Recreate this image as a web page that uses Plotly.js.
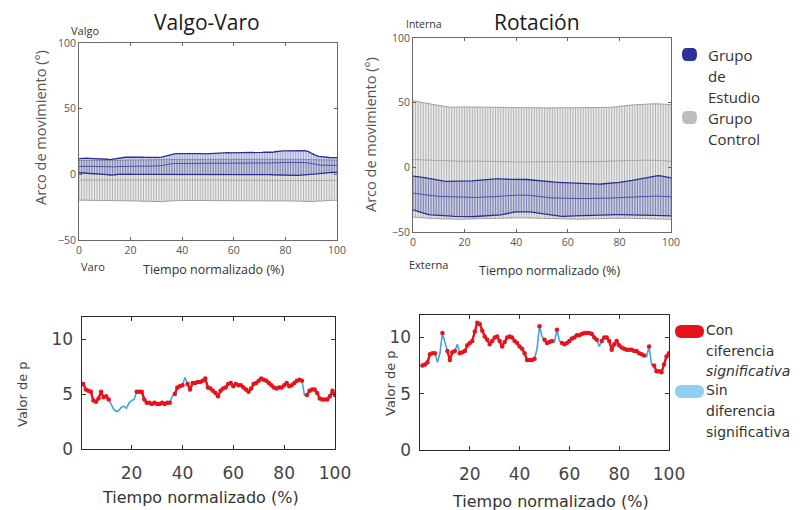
<!DOCTYPE html>
<html><head><meta charset="utf-8">
<script src="https://cdn.plot.ly/plotly-3.0.1.min.js"></script>
<style>html,body{margin:0;padding:0;background:#fff}#chart{width:807px;height:510px}</style>
</head><body><div id="chart"></div>
<script>
// ---------- DATA ----------
// Valgo-Varo, control group (gray)
const vvCtrlUpper = [10.5,10.6,10.6,10.7,10.7,10.6,10.6,10.5,10.5,10.4,10.3,
 10.2,10.2,10.3,10.4,10.5,10.6,10.7,10.7,10.8,10.8,
 10.8,10.9,10.9,10.9,11.0,11.0,11.0,11.1,11.1,11.1,
 11.1,11.2,11.2,11.2,11.3,11.3,11.3,11.3,11.4,11.4,
 11.4,11.4,11.5,11.5,11.5,11.5,11.6,11.6,11.6,11.6,
 11.6,11.7,11.7,11.7,11.7,11.7,11.8,11.8,11.8,11.8,
 11.8,11.8,11.8,11.9,11.9,11.9,11.9,11.9,11.9,11.9,
 11.9,11.9,11.9,11.9,11.8,11.8,11.8,11.8,11.7,11.7,
 11.7,11.6,11.6,11.5,11.5,11.4,11.4,11.3,11.3,11.2,
 11.2,11.1,11.1,11.0,11.0,10.9,10.9,10.8,10.8,10.7];
const vvCtrlMean = [-4.4,-4.4,-4.5,-4.5,-4.6,-4.6,-4.6,-4.7,-4.7,-4.8,-4.8,
 -4.9,-4.9,-4.8,-4.8,-4.7,-4.7,-4.6,-4.6,-4.5,-4.5,
 -4.5,-4.5,-4.6,-4.6,-4.6,-4.7,-4.7,-4.8,-4.8,-4.9,
 -4.9,-4.9,-4.8,-4.8,-4.7,-4.7,-4.6,-4.6,-4.5,-4.5,
 -4.4,-4.4,-4.4,-4.3,-4.3,-4.3,-4.3,-4.2,-4.2,-4.2,
 -4.2,-4.2,-4.2,-4.3,-4.3,-4.3,-4.4,-4.4,-4.4,-4.4,
 -4.5,-4.5,-4.5,-4.5,-4.5,-4.4,-4.4,-4.4,-4.3,-4.3,
 -4.3,-4.2,-4.2,-4.2,-4.2,-4.2,-4.3,-4.3,-4.3,-4.4,
 -4.4,-4.5,-4.5,-4.6,-4.6,-4.7,-4.7,-4.8,-4.8,-4.8,
 -4.9,-4.9,-4.8,-4.8,-4.7,-4.7,-4.6,-4.6,-4.5,-4.5];
const vvCtrlLower = [-19.6,-19.7,-19.8,-19.9,-20.0,-20.0,-20.1,-20.1,-20.0,-20.0,-19.9,
 -19.9,-19.8,-19.8,-19.9,-19.9,-20.0,-20.0,-20.1,-20.1,-20.2,
 -20.2,-20.3,-20.3,-20.4,-20.5,-20.6,-20.7,-20.8,-20.9,-21.0,
 -20.9,-20.8,-20.6,-20.4,-20.2,-20.1,-20.0,-20.0,-19.9,-19.9,
 -19.9,-19.8,-19.8,-19.8,-19.9,-19.9,-19.9,-20.0,-20.0,-20.0,
 -20.0,-20.0,-20.1,-20.1,-20.1,-20.0,-20.0,-20.0,-19.9,-19.9,
 -19.9,-19.9,-19.9,-20.0,-20.0,-20.0,-20.0,-20.1,-20.1,-20.1,
 -20.1,-20.2,-20.2,-20.2,-20.2,-20.1,-20.1,-20.0,-20.0,-20.0,
 -20.0,-20.1,-20.2,-20.3,-20.4,-20.5,-20.6,-20.7,-20.8,-20.8,
 -20.7,-20.5,-20.3,-20.1,-20.0,-19.9,-19.9,-19.8,-19.8,-19.8];
// Valgo-Varo, study group (blue)
const vvStudyUpper = [12.0,12.2,12.3,12.3,12.2,12.1,12.2,12.3,12.1,12.0,11.8,11.5,
 11.2,11.5,12.2,12.6,
 12.8,12.9,13.0,13.0,13.1,13.0,12.9,13.0,13.1,13.0,12.9,12.8,12.9,13.0,13.0,12.9,13.1,
 13.6,14.4,15.0,15.4,15.6,
 15.7,15.8,15.7,15.8,15.9,15.8,15.7,15.8,15.9,15.8,15.7,15.6,15.7,16.0,
 16.3,16.4,16.5,16.4,16.5,16.6,16.5,16.4,16.5,16.6,16.6,16.5,16.4,16.5,16.6,16.7,16.6,16.5,16.6,16.7,16.8,16.7,16.6,16.8,17.2,
 17.6,17.8,17.9,17.8,17.9,18.0,18.0,17.9,18.0,18.1,18.0,17.8,17.3,
 16.2,15.0,14.2,13.6,13.3,13.0,12.9,12.8,12.7,12.8,12.7];
const vvStudyMean = [6.0,6.1,6.1,6.0,6.0,6.1,6.0,5.9,5.9,5.8,5.7,5.6,
 5.5,5.5,5.7,5.9,
 6.0,6.1,6.1,6.2,6.2,6.1,6.1,6.2,6.2,6.1,6.1,6.2,6.2,6.3,6.3,6.4,6.6,
 7.0,7.5,7.9,8.1,8.2,
 8.2,8.3,8.3,8.2,8.3,8.3,8.2,8.2,8.3,8.3,8.2,8.2,8.3,8.4,
 8.5,8.5,8.6,8.5,8.6,8.6,8.5,8.5,8.6,8.6,8.6,8.5,8.5,8.6,8.6,8.7,8.6,8.6,8.6,8.7,8.7,8.7,8.6,8.7,8.8,
 8.9,9.0,9.0,9.0,9.1,9.1,9.1,9.0,9.1,9.1,9.0,8.9,8.6,
 8.1,7.6,7.3,7.1,7.0,6.9,6.9,6.8,6.8,6.8,6.8];
const vvStudyLower = [1.2,1.1,1.0,1.0,0.9,0.9,0.8,0.6,0.4,0.2,0.0,-0.2,
 -0.5,-0.6,-0.3,0.0,
 0.1,0.1,0.0,0.0,0.1,0.0,-0.1,0.0,0.1,0.0,-0.1,0.0,0.0,0.1,0.1,0.0,0.1,
 0.2,0.3,0.3,0.3,0.2,
 0.1,0.1,0.0,0.0,0.1,0.0,-0.1,0.0,0.0,0.1,0.0,-0.1,0.0,0.0,
 0.0,-0.1,0.0,0.0,0.1,0.0,0.0,-0.1,0.0,0.0,0.1,0.0,0.0,-0.1,0.0,0.0,-0.1,-0.1,0.0,0.0,-0.1,-0.2,-0.2,-0.3,-0.4,
 -0.6,-0.7,-0.8,-0.7,-0.8,-0.8,-0.7,-0.8,-0.8,-0.7,-0.7,-0.6,-0.5,
 -0.3,0.0,0.3,0.6,0.9,1.1,1.2,1.3,1.4,1.4,1.5];
// Rotacion, control group (gray)
const rtCtrlUpper = [51.5,51.2,50.9,50.5,50.1,49.7,49.3,48.9,48.5,48.1,47.7,
 47.3,47.0,46.8,46.6,46.5,46.4,46.5,46.6,46.7,46.7,
 46.6,46.7,46.8,46.7,46.6,46.5,46.6,46.7,46.6,46.5,
 46.4,46.3,46.4,46.5,46.4,46.3,46.2,46.3,46.4,46.3,
 46.2,46.1,46.2,46.3,46.2,46.1,46.0,46.1,46.2,46.1,
 46.0,45.9,46.0,46.1,46.0,45.9,45.9,46.0,46.1,46.0,
 46.0,46.1,46.2,46.1,46.0,45.9,46.0,46.1,46.0,45.9,
 46.0,46.1,46.2,46.1,46.0,46.2,46.4,46.6,46.9,47.2,
 47.5,47.7,47.9,48.1,48.2,48.3,48.5,48.6,48.7,48.8,
 48.9,49.0,49.1,49.2,49.1,49.0,48.8,48.7,48.6,48.5];
const rtCtrlMean = [6.0,5.9,5.8,5.7,5.6,5.5,5.4,5.3,5.2,5.1,5.0,
 4.9,4.8,4.8,4.7,4.7,4.6,4.6,4.7,4.7,4.8,
 4.8,4.9,4.9,4.8,4.8,4.7,4.7,4.8,4.8,4.7,
 4.6,4.6,4.5,4.5,4.4,4.4,4.3,4.3,4.2,4.2,
 4.2,4.1,4.1,4.0,4.0,4.0,4.1,4.1,4.0,4.0,
 3.9,3.9,4.0,4.0,4.1,4.1,4.0,4.0,3.9,3.9,
 4.0,4.0,4.1,4.1,4.2,4.2,4.3,4.3,4.3,4.4,
 4.4,4.5,4.5,4.6,4.6,4.7,4.7,4.8,4.9,5.0,
 5.1,5.2,5.3,5.4,5.5,5.5,5.6,5.6,5.7,5.7,
 5.6,5.5,5.4,5.3,5.2,5.1,5.0,4.9,4.9,4.8];
const rtCtrlLower = [-38.5,-38.7,-38.9,-39.0,-39.2,-39.3,-39.4,-39.5,-39.6,-39.7,-39.8,
 -39.9,-40.0,-40.0,-40.1,-40.1,-40.2,-40.2,-40.1,-40.1,-40.0,
 -40.0,-39.9,-39.9,-39.8,-39.8,-39.7,-39.7,-39.6,-39.6,-39.5,
 -39.5,-39.4,-39.4,-39.3,-39.3,-39.2,-39.2,-39.1,-39.1,-39.0,
 -39.0,-39.0,-39.1,-39.1,-39.2,-39.2,-39.3,-39.3,-39.4,-39.4,
 -39.5,-39.5,-39.6,-39.6,-39.7,-39.7,-39.8,-39.8,-39.9,-39.9,
 -40.0,-40.0,-40.0,-40.1,-40.1,-40.0,-40.0,-39.9,-39.9,-39.8,
 -39.8,-39.7,-39.7,-39.6,-39.6,-39.5,-39.5,-39.4,-39.4,-39.3,
 -39.3,-39.3,-39.4,-39.4,-39.5,-39.5,-39.6,-39.6,-39.7,-39.7,
 -39.8,-39.8,-39.9,-39.9,-40.0,-40.0,-40.1,-40.1,-40.2,-40.2];
// Rotacion, study group (blue)
const rtStudyUpper = [-6.8,-7.0,-7.2,-7.5,-7.8,-8.2,-8.6,-9.0,-9.5,-10.0,-10.4,
 -10.6,-10.7,-10.8,-10.8,-10.7,-10.6,-10.6,-10.7,-10.8,-10.7,
 -10.6,-10.5,-10.4,-10.2,-10.0,-9.8,-9.6,-9.4,-9.3,-9.2,
 -9.1,-9.0,-9.0,-8.9,-9.0,-9.1,-9.2,-9.2,-9.1,-9.0,
 -9.0,-9.1,-9.2,-9.4,-9.6,-9.8,-10.1,-10.4,-10.7,-11.0,
 -11.2,-11.3,-11.4,-11.5,-11.5,-11.6,-11.7,-11.8,-12.0,-12.2,
 -12.4,-12.5,-12.6,-12.7,-12.8,-12.9,-13.0,-13.0,-13.1,-13.1,
 -13.1,-13.0,-12.9,-12.8,-12.6,-12.4,-12.2,-12.0,-11.8,-11.6,
 -11.4,-11.1,-10.8,-10.5,-10.1,-9.7,-9.3,-8.9,-8.5,-8.1,
 -7.7,-7.2,-6.8,-6.5,-6.4,-6.6,-7.0,-7.5,-7.9,-8.2];
const rtStudyMean = [-20.0,-20.3,-20.6,-20.9,-21.2,-21.5,-21.8,-22.0,-22.2,-22.3,-22.4,
 -22.5,-22.6,-22.7,-22.8,-22.9,-23.0,-23.0,-23.1,-23.1,-23.2,
 -23.2,-23.3,-23.3,-23.3,-23.2,-23.2,-23.1,-23.0,-22.9,-22.8,
 -22.7,-22.6,-22.4,-22.2,-22.0,-21.9,-21.8,-21.7,-21.6,-21.5,
 -21.5,-21.4,-21.4,-21.5,-21.6,-21.8,-22.1,-22.4,-22.7,-23.0,
 -23.2,-23.4,-23.5,-23.6,-23.7,-23.8,-23.9,-23.9,-24.0,-24.0,
 -24.1,-24.1,-24.1,-24.2,-24.2,-24.2,-24.1,-24.1,-24.1,-24.0,
 -24.0,-24.0,-23.9,-23.9,-23.8,-23.8,-23.7,-23.6,-23.5,-23.4,
 -23.3,-23.2,-23.1,-23.0,-22.8,-22.6,-22.4,-22.3,-22.2,-22.1,
 -22.0,-22.0,-22.1,-22.2,-22.3,-22.4,-22.5,-22.6,-22.7,-22.8];
const rtStudyLower = [-32.8,-33.4,-34.2,-35.0,-35.7,-36.2,-36.5,-36.7,-36.9,-37.0,-37.1,
 -37.2,-37.3,-37.5,-37.6,-37.8,-37.9,-38.0,-38.1,-38.2,-38.2,
 -38.2,-38.2,-38.1,-38.0,-37.9,-37.8,-37.7,-37.6,-37.5,-37.5,
 -37.4,-37.3,-37.1,-36.8,-36.4,-35.9,-35.4,-35.0,-34.7,-34.5,
 -34.4,-34.3,-34.3,-34.4,-34.5,-34.7,-35.0,-35.3,-35.7,-36.1,
 -36.5,-36.8,-37.1,-37.3,-37.5,-37.7,-37.8,-37.9,-37.9,-37.9,
 -37.8,-37.7,-37.6,-37.5,-37.4,-37.3,-37.2,-37.1,-37.0,-37.0,
 -36.9,-36.9,-36.8,-36.8,-36.8,-36.7,-36.7,-36.6,-36.6,-36.6,
 -36.6,-36.6,-36.6,-36.7,-36.7,-36.8,-36.8,-36.9,-36.9,-37.0,
 -37.0,-37.1,-37.1,-37.2,-37.2,-37.3,-37.3,-37.4,-37.4,-37.5];
// p-value curves (t = 1..100) and significance flags (1 = significant)
const pValgoVaro = [5.9,5.4,5.3,5.2,4.4,4.3,4.6,5.2,4.7,4.8,
 4.5,4.0,3.6,3.4,3.5,3.8,3.9,3.7,4.2,4.4,
 4.5,5.2,5.2,5.2,4.5,4.2,4.2,4.1,4.2,4.1,
 4.1,4.2,4.1,4.2,4.2,4.8,5.0,5.6,5.7,5.8,
 6.5,5.9,5.4,6.0,6.0,6.1,6.1,6.2,6.4,5.6,
 5.5,5.3,5.1,4.8,5.3,5.5,5.6,5.9,6.0,5.7,
 5.9,5.8,5.8,5.6,5.4,5.2,5.5,5.9,6.0,6.2,
 6.4,6.3,6.2,6.0,5.8,5.6,5.5,5.6,5.6,5.8,
 6.0,5.7,5.8,6.0,6.2,6.3,6.2,4.9,4.9,5.3,
 5.4,5.4,5.1,4.6,4.5,4.5,4.5,4.8,5.3,4.9];
const sigValgoVaro = [1,1,1,1,1,1,1,1,1,1,
 1,0,0,0,0,0,0,0,0,0,
 0,1,1,1,1,1,1,1,1,1,
 1,1,1,1,1,0,1,1,1,1,
 0,1,1,1,1,1,1,1,1,1,
 1,1,1,1,1,1,1,1,1,1,
 1,1,1,1,1,1,1,1,1,1,
 1,1,1,1,1,1,1,1,1,1,
 1,1,1,1,1,1,1,0,1,1,
 1,1,1,1,1,1,1,1,1,1];
const pRotacion = [7.5,7.6,7.8,8.5,8.6,8.6,7.8,8.6,10.4,9.7,
 8.8,8.0,8.7,8.8,9.4,8.6,8.7,8.8,9.3,9.5,
 9.7,10.5,11.3,11.2,10.6,10.1,9.8,9.4,9.7,10.0,
 10.1,9.7,9.2,9.6,10.0,10.1,10.0,9.7,9.5,9.2,
 9.0,8.6,8.0,8.0,8.0,8.1,9.0,11.0,10.1,9.8,
 9.5,9.6,9.7,9.6,10.7,9.7,9.5,9.4,9.5,9.7,
 9.9,10.0,10.2,10.2,10.3,10.4,10.4,10.4,10.3,10.0,
 9.8,9.2,9.7,10.0,10.0,9.7,8.9,9.4,9.7,9.3,
 9.1,9.0,8.9,8.9,8.9,8.8,8.8,8.6,8.5,8.4,
 8.3,9.2,7.6,7.5,7.0,7.0,6.9,7.6,8.3,8.6];
const sigRotacion = [1,1,1,1,1,1,0,0,1,0,
 1,1,1,1,0,1,1,1,1,1,
 1,1,1,1,1,1,1,1,1,1,
 1,1,1,1,1,1,1,1,1,1,
 1,1,1,1,1,1,0,1,0,1,
 1,1,1,0,1,0,1,1,1,1,
 1,1,1,1,1,1,1,1,1,1,
 1,0,1,1,1,1,1,1,1,1,
 1,1,1,1,1,1,1,1,1,1,
 0,1,0,1,1,1,1,1,1,1];
const xTicksTop = [0,20,40,60,80,100];
const yTicksTop = [-50,0,50,100];
const xTicksBottom = [20,40,60,80,100];
const yTicksBottom = [0,5,10];
const groupNames = ['Grupo de Estudio','Grupo Control'];

// ---------- HELPERS ----------
const W = 807, H = 510;
const PX = x => x / W, PY = y => 1 - y / H;
const tTop = vvStudyMean.map((_, i) => i);
const tBot = pValgoVaro.map((_, i) => i + 1);
const diff = (a, b) => a.map((v, i) => +(v - b[i]).toFixed(2));

function band(xa, ya, upper, mean, lower, name, c) {
  return [
    {x: tTop, y: lower, xaxis: xa, yaxis: ya, mode: 'lines', line: {color: c.edge, width: c.ew},
     showlegend: false, hoverinfo: 'skip'},
    {x: tTop, y: upper, xaxis: xa, yaxis: ya, mode: 'lines', fill: 'tonexty', fillcolor: c.fill,
     line: {color: c.edge, width: c.ew}, name: name, showlegend: false},
    {x: tTop, y: mean, xaxis: xa, yaxis: ya, mode: 'lines', line: {color: c.mean, width: 1},
     showlegend: false, hoverinfo: 'skip',
     error_y: {type: 'data', symmetric: false, array: diff(upper, mean), arrayminus: diff(mean, lower),
               width: 0, thickness: 1, color: c.hatch}}
  ];
}
const gray = {edge: '#a0a0a0', ew: 1, fill: 'rgba(215,215,215,0.5)', mean: '#a8a8a8', hatch: 'rgba(155,155,155,0.7)'};
const blue = {edge: '#252d8e', ew: 1.3, fill: 'rgba(110,115,195,0.24)', mean: '#4a52ad', hatch: 'rgba(85,90,170,0.45)'};

function pCurve(xa, ya, p, sig) {
  return [
    {x: tBot, y: p, xaxis: xa, yaxis: ya, mode: 'lines', line: {color: '#4aa0d8', width: 1.6},
     name: 'Sin diferencia significativa', showlegend: false},
    {x: tBot, y: p.map((v, i) => sig[i] ? v : null), xaxis: xa, yaxis: ya, mode: 'lines+markers',
     connectgaps: false, line: {color: '#e5141c', width: 2.4}, marker: {color: '#e5141c', size: 4.5},
     name: 'Con diferencia significativa', showlegend: false}
  ];
}

const data = [
  ...band('x', 'y', vvCtrlUpper, vvCtrlMean, vvCtrlLower, groupNames[1], gray),
  ...band('x', 'y', vvStudyUpper, vvStudyMean, vvStudyLower, groupNames[0], blue),
  ...band('x2', 'y2', rtCtrlUpper, rtCtrlMean, rtCtrlLower, groupNames[1], gray),
  ...band('x2', 'y2', rtStudyUpper, rtStudyMean, rtStudyLower, groupNames[0], blue),
  ...pCurve('x3', 'y3', pValgoVaro, sigValgoVaro),
  ...pCurve('x4', 'y4', pRotacion, sigRotacion)
];

const topFont = {family: 'Open Sans, Noto Sans, sans-serif', size: 10.5, color: '#555'};
const botFont = {family: 'DejaVu Sans, sans-serif', size: 17, color: '#444'};
function axTop(dom, anchor, vals, range) {
  return {domain: dom, anchor: anchor, range: range, tickvals: vals, ticks: 'inside', ticklen: 3,
    tickcolor: '#666', showline: true, linecolor: '#6a6a6a', linewidth: 1, mirror: 'ticks',
    showgrid: false, zeroline: false, tickfont: topFont, fixedrange: true};
}
function axBot(dom, anchor, vals, range, standoff) {
  return {domain: dom, anchor: anchor, range: range, tickvals: vals, ticks: 'inside', ticklen: 4,
    tickcolor: '#333', showline: true, linecolor: '#2a2a2a', linewidth: 1.4, mirror: 'ticks',
    showgrid: false, zeroline: false, tickfont: botFont, ticklabelstandoff: standoff, fixedrange: true};
}

const layout = {
  width: W, height: H, margin: {l: 0, r: 0, t: 0, b: 0},
  paper_bgcolor: '#fff', plot_bgcolor: '#fff', showlegend: false,
  xaxis: axTop([PX(79), PX(337)], 'y', xTicksTop, [0, 100]),
  yaxis: axTop([PY(240), PY(43)], 'x', yTicksTop, [-50, 100]),
  xaxis2: axTop([PX(413), PX(671)], 'y2', xTicksTop, [0, 100]),
  yaxis2: axTop([PY(232), PY(38)], 'x2', yTicksTop, [-50, 100]),
  xaxis3: axBot([PX(82), PX(335)], 'y3', xTicksBottom, [0.5, 100], 8),
  yaxis3: axBot([PY(449), PY(317)], 'x3', yTicksBottom, [0, 12], 4),
  xaxis4: axBot([PX(420), PX(669)], 'y4', xTicksBottom, [0, 100], 8),
  yaxis4: axBot([PY(450), PY(315)], 'x4', yTicksBottom, [0, 12], 4),
  annotations: [], shapes: []
};

function note(text, x, y, o) {
  o = o || {};
  layout.annotations.push({text: text, x: PX(x), y: PY(y), xref: 'paper', yref: 'paper',
    showarrow: false, xanchor: o.xa || 'center', yanchor: 'middle', textangle: o.angle || 0,
    font: {family: o.family || 'Open Sans, Noto Sans, sans-serif', size: o.size || 12, color: o.color || '#333'}});
}
const dv = 'DejaVu Sans, sans-serif';
note('Valgo-Varo', 207, 22, {size: 21, color: '#1a1a1a'});
note('Rotación', 537, 22, {size: 21, color: '#1a1a1a'});
note('Valgo', 85, 30, {size: 11});
note('Varo', 93, 266, {size: 11});
note('Interna', 424, 24, {size: 10.5});
note('Externa', 428, 264, {size: 11});
note('Tiempo normalizado (%)', 213, 269, {size: 12.5});
note('Tiempo normalizado (%)', 549, 270, {size: 12.5});
note('Arco de movimiento (°)', 40, 128, {size: 14.5, color: '#555', angle: -90});
note('Arco de movimiento (°)', 371, 135, {size: 14.5, color: '#555', angle: -90});
note('Valor de p', 22, 394, {size: 13, family: dv, color: '#444', angle: -90});
note('Valor de p', 390, 383, {size: 13, family: dv, color: '#444', angle: -90});
note('Tiempo normalizado (%)', 200, 497, {size: 16, family: dv, color: '#333'});
note('Tiempo normalizado (%)', 550, 501, {size: 16, family: dv, color: '#333'});
// legend (top)
['Grupo', 'de', 'Estudio'].forEach((s, i) => note(s, 706, 55 + 21 * i, {size: 15, xa: 'left'}));
['Grupo', 'Control'].forEach((s, i) => note(s, 706, 118 + 21 * i, {size: 15, xa: 'left'}));
// legend (bottom)
note('Con', 704, 330, {size: 14, family: dv, xa: 'left'});
note('ciferencia', 704, 351, {size: 14, family: dv, xa: 'left'});
note('<i>significativa</i>', 704, 371, {size: 14, family: dv, xa: 'left'});
note('Sin', 704, 390, {size: 14, family: dv, xa: 'left'});
note('diferencia', 704, 411, {size: 14, family: dv, xa: 'left'});
note('significativa', 704, 432, {size: 14, family: dv, xa: 'left'});

function pill(x0, y0, x1, y1, r, color) {
  const ym = (y0 + y1) / 2;
  const p = (x, y) => PX(x) + ',' + PY(y);
  const path = 'M' + p(x0 + r, y0) + ' L' + p(x1 - r, y0) + ' Q' + p(x1, y0) + ' ' + p(x1, ym) +
    ' Q' + p(x1, y1) + ' ' + p(x1 - r, y1) + ' L' + p(x0 + r, y1) + ' Q' + p(x0, y1) + ' ' + p(x0, ym) +
    ' Q' + p(x0, y0) + ' ' + p(x0 + r, y0) + ' Z';
  layout.shapes.push({type: 'path', xref: 'paper', yref: 'paper', path: path,
    fillcolor: color, line: {width: 0}});
}
pill(682, 48, 697, 61, 4, '#2b3398');
pill(682, 111, 697, 124, 4, '#bdbdbd');
pill(675, 325, 704, 338, 6.5, '#e5141c');
pill(675, 385, 704, 398, 6.5, '#8fd0f0');

Plotly.newPlot('chart', data, layout, {displayModeBar: false, staticPlot: true});
</script></body></html>
